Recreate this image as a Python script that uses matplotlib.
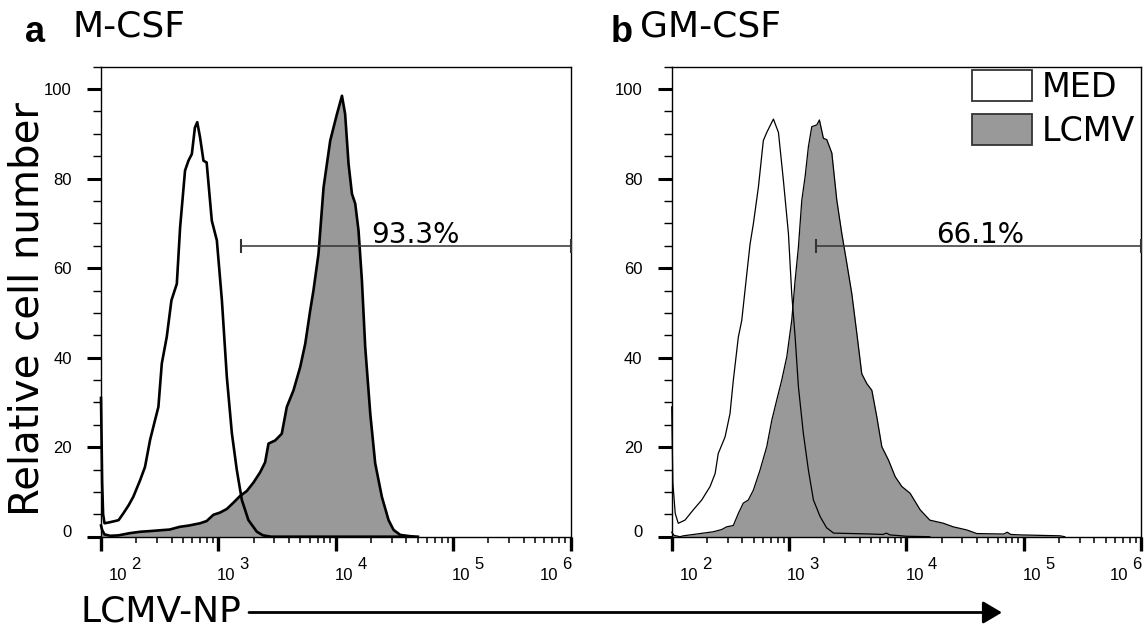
import matplotlib
matplotlib.use('Agg')
import matplotlib.pyplot as plt
import numpy as np
from matplotlib.patches import Patch, FancyArrowPatch
from matplotlib.ticker import FixedLocator, MultipleLocator, NullFormatter, LogLocator
from matplotlib.transforms import ScaledTranslation

# ---------------- data (x as log10 of LCMV-NP intensity, y = relative cell number) -------------
med_a_logx = [2.000, 2.010, 2.018, 2.030, 2.07, 2.12, 2.15, 2.19, 2.235, 2.275, 2.333, 2.375, 2.418,
              2.46, 2.489, 2.518, 2.56, 2.60, 2.646, 2.674, 2.716, 2.745, 2.774, 2.80, 2.82, 2.844,
              2.873, 2.90, 2.944, 2.987, 3.03, 3.072, 3.115, 3.157, 3.2, 3.256, 3.328, 3.38, 3.45, 4.6]
med_a_y = [31, 12, 5, 3, 3.2, 3.5, 3.7, 5.2, 7, 8.9, 12.6, 15.6, 21.6,
           26.0, 29, 38.7, 44.6, 52.8, 56.5, 69.1, 81.8, 84, 85.5, 91.4, 92.6, 89.2,
           84, 83.6, 70.6, 66.2, 52.8, 35.7, 23.1, 14.9, 8.2, 3.7, 1.1, 0.3, 0, 0]

lcmv_a_logx = [2.000, 2.01, 2.03, 2.08, 2.148, 2.247, 2.333, 2.44, 2.585, 2.67, 2.75, 2.844, 2.90,
               2.958, 3.015, 3.072, 3.128, 3.185, 3.242, 3.299, 3.356, 3.398, 3.427, 3.484, 3.54,
               3.583, 3.64, 3.697, 3.74, 3.782, 3.81, 3.853, 3.896, 3.953, 4.01, 4.053, 4.08, 4.109,
               4.138, 4.166, 4.194, 4.223, 4.251, 4.294, 4.336, 4.393, 4.45, 4.493, 4.55, 4.636, 4.7]
lcmv_a_y = [2.5, 1.5, 0.5, 0.2, 0.3, 0.8, 1.1, 1.3, 1.6, 2.2, 2.5, 3.0, 3.5,
            4.9, 5.4, 6.2, 7.6, 9.1, 10.2, 12.1, 14.4, 16.6, 20.8, 21.5, 23.0,
            29, 32.7, 37.9, 43.1, 50.5, 55, 63.2, 78, 88.5, 94.4, 98.5, 94.4, 83.3,
            76.6, 74.4, 68.4, 57.2, 42.4, 27.5, 16.4, 8.9, 3.7, 1.5, 0.4, 0.1, 0]

med_b_logx = [2.000, 2.01, 2.03, 2.056, 2.113, 2.184, 2.256, 2.327, 2.37, 2.397, 2.455, 2.497, 2.525,
              2.568, 2.597, 2.64, 2.668, 2.696, 2.739, 2.781, 2.81, 2.867, 2.91, 2.952, 2.995, 3.023,
              3.052, 3.08, 3.122, 3.165, 3.208, 3.265, 3.32, 3.38, 3.7, 3.8, 3.83, 3.86, 4.0, 4.2]
med_b_y = [29, 12, 5.2, 3.0, 3.7, 6.0, 8.2, 11.2, 14.1, 18.6, 22.3, 27.5, 34.9,
           44.6, 48.3, 58.7, 65.4, 69.9, 78.1, 88.5, 90.3, 93.3, 90.3, 79.6, 67.7, 54.3,
           44.6, 33.5, 23.1, 14.9, 8.2, 4.5, 2.0, 0.8, 0.6, 0.5, 0.8, 0.4, 0.1, 0]

lcmv_b_logx = [2.000, 2.02, 2.07, 2.10, 2.27, 2.355, 2.426, 2.468, 2.525, 2.568, 2.61, 2.653, 2.696,
               2.753, 2.81, 2.853, 2.895, 2.938, 2.981, 3.023, 3.052, 3.08, 3.109, 3.137, 3.165,
               3.194, 3.237, 3.259, 3.293, 3.322, 3.365, 3.407, 3.45, 3.493, 3.535, 3.578, 3.62,
               3.663, 3.706, 3.748, 3.791, 3.848, 3.905, 3.962, 4.032, 4.118, 4.2, 4.316, 4.40,
               4.516, 4.60, 4.83, 4.86, 4.89, 4.97, 5.31, 5.35]
lcmv_b_y = [1.0, 0.3, 0, 0.2, 0.8, 1.1, 1.6, 2.2, 2.5, 5.2, 7.5, 8.2, 10.4,
            14.9, 20.1, 26, 30.5, 35, 40.2, 48.3, 57.3, 64.7, 75.2, 80.4, 87.1,
            91.6, 92, 93.1, 89, 88.7, 85.7, 75.2, 67.7, 61, 54.3, 45.4, 36.4,
            34.2, 32.7, 26.8, 20.1, 17.1, 13.4, 11.2, 9.7, 6.0, 3.7, 3.0, 2.2,
            1.5, 0.7, 0.6, 1.0, 0.5, 0.4, 0.2, 0]

panel_letters = ['a', 'b']
panel_titles = ['M-CSF', 'GM-CSF']
gate_start_logx = [3.191, 3.228]
gate_end_logx = [6.0, 6.0]
gate_level = [65, 65]
gate_labels = ['93.3%', '66.1%']
legend_labels = ['MED', 'LCMV']
ytick_values = [0, 20, 40, 60, 80, 100]
xtick_exponents = [2, 3, 4, 5, 6]
ylabel_text = 'Relative cell number'
xlabel_text = 'LCMV-NP'

# ---------------- layout / style ----------------
W, H = 1145, 628
GRAY = '#999999'
NUM_FONT = 'Liberation Sans'
TXT_FONT = 'DejaVu Sans'

fig = plt.figure(figsize=(W / 100, H / 100), dpi=100)

def px_axes(l, t, r, b):
    return fig.add_axes([l / W, 1 - b / H, (r - l) / W, (b - t) / H])

axes = [px_axes(101, 66.7, 570.5, 536.7), px_axes(671.7, 66.7, 1141, 536.7)]
line_widths = [1.9, 0.9]
gate_text_dx = [10, 2]
xlab_dx = [8, -2, -1, -1, -31]
title_x = [(25, 72), (611, 640)]

med_sets = [(med_a_logx, med_a_y), (med_b_logx, med_b_y)]
lcmv_sets = [(lcmv_a_logx, lcmv_a_y), (lcmv_b_logx, lcmv_b_y)]

for i, ax in enumerate(axes):
    lx = 10 ** np.asarray(lcmv_sets[i][0])
    ly = np.asarray(lcmv_sets[i][1])
    mx = 10 ** np.asarray(med_sets[i][0])
    my = np.asarray(med_sets[i][1])
    ax.fill_between(lx, ly, 0, color=GRAY, lw=0, zorder=1)
    ax.plot(lx, ly, color='k', lw=line_widths[i], zorder=2, clip_on=False)
    ax.plot(mx, my, color='k', lw=line_widths[i], zorder=3, clip_on=False)

    ax.set_xscale('log')
    ax.set_xlim(1e2, 1e6)
    ax.set_ylim(0, 105)

    # y axis ticks
    ax.yaxis.set_major_locator(FixedLocator(ytick_values))
    ax.yaxis.set_minor_locator(MultipleLocator(5))
    ax.tick_params(axis='y', which='major', length=10, width=2.2, pad=11,
                   labelsize=12, direction='out')
    ax.tick_params(axis='y', which='minor', length=5.5, width=1.0, direction='out')
    for lab in ax.get_yticklabels():
        lab.set_fontfamily(NUM_FONT)
    ylabs = ax.get_yticklabels()
    ylabs[0].set_transform(ylabs[0].get_transform() +
                           ScaledTranslation(0, 6 / 100, fig.dpi_scale_trans))

    # x axis ticks (labels drawn manually as 10 + raised exponent)
    ax.xaxis.set_major_locator(FixedLocator([10.0 ** e for e in xtick_exponents]))
    ax.xaxis.set_minor_locator(LogLocator(base=10, subs=np.arange(2, 10)))
    ax.xaxis.set_major_formatter(NullFormatter())
    ax.xaxis.set_minor_formatter(NullFormatter())
    ax.tick_params(axis='x', which='major', length=10, width=2.4, direction='out')
    ax.tick_params(axis='x', which='minor', length=4.5, width=1.1, direction='out')
    for j, e in enumerate(xtick_exponents):
        ax.annotate('10', xy=(10.0 ** e, 0), xycoords=('data', 'axes fraction'),
                    xytext=(xlab_dx[j], -43), textcoords='offset pixels',
                    ha='left', va='baseline', fontsize=12, family=NUM_FONT,
                    annotation_clip=False)
        ax.annotate(str(e), xy=(10.0 ** e, 0), xycoords=('data', 'axes fraction'),
                    xytext=(xlab_dx[j] + 22.5, -32), textcoords='offset pixels',
                    ha='left', va='baseline', fontsize=12, family=NUM_FONT,
                    annotation_clip=False)

    for sp in ax.spines.values():
        sp.set_linewidth(1.0)
        sp.set_color('k')

    # gate
    g0, g1 = 10 ** gate_start_logx[i], 10 ** gate_end_logx[i]
    ax.plot([g0, g1], [gate_level[i]] * 2, color='#333333', lw=1.1, zorder=4,
            marker='|', ms=10, mew=1.5, clip_on=False)
    gmid = 10 ** ((gate_start_logx[i] + gate_end_logx[i]) / 2)
    ax.annotate(gate_labels[i], xy=(gmid, gate_level[i]), xytext=(gate_text_dx[i], 3),
                textcoords='offset pixels', ha='center', va='baseline',
                fontsize=20, family=TXT_FONT)

    # panel titles
    fig.text(title_x[i][0] / W, 1 - 41.7 / H, panel_letters[i], fontsize=26,
             fontweight='bold', family=NUM_FONT, va='baseline', ha='left')
    fig.text(title_x[i][1] / W, 1 - 36.7 / H, panel_titles[i], fontsize=26,
             family=TXT_FONT, va='baseline', ha='left')

# legend in panel b
handles = [Patch(facecolor='white', edgecolor='#333333', lw=1.3),
           Patch(facecolor=GRAY, edgecolor='#333333', lw=1.3)]
axes[1].legend(handles, legend_labels, loc='upper left',
               bbox_to_anchor=(972 / W, 1 - 70 / H), bbox_transform=fig.transFigure,
               frameon=False, prop={'family': TXT_FONT, 'size': 24},
               handlelength=1.8, handleheight=1.05, handletextpad=0.3,
               labelspacing=0.3, borderpad=0, borderaxespad=0)

# y label
fig.text(28 / W, 1 - 309 / H, ylabel_text, rotation=90, fontsize=29,
         family=TXT_FONT, ha='center', va='center')

# x label with arrow
fig.text(81 / W, 1 - 621.5 / H, xlabel_text, fontsize=26, family=TXT_FONT,
         ha='left', va='baseline')
fig.add_artist(FancyArrowPatch(
    (249 / W, 1 - 612.5 / H), (1002 / W, 1 - 612.5 / H), transform=fig.transFigure,
    arrowstyle='-|>,head_length=1.15,head_width=0.68', mutation_scale=10,
    lw=2, color='k', shrinkA=0, shrinkB=0))

fig.savefig('out.png', dpi=100)
